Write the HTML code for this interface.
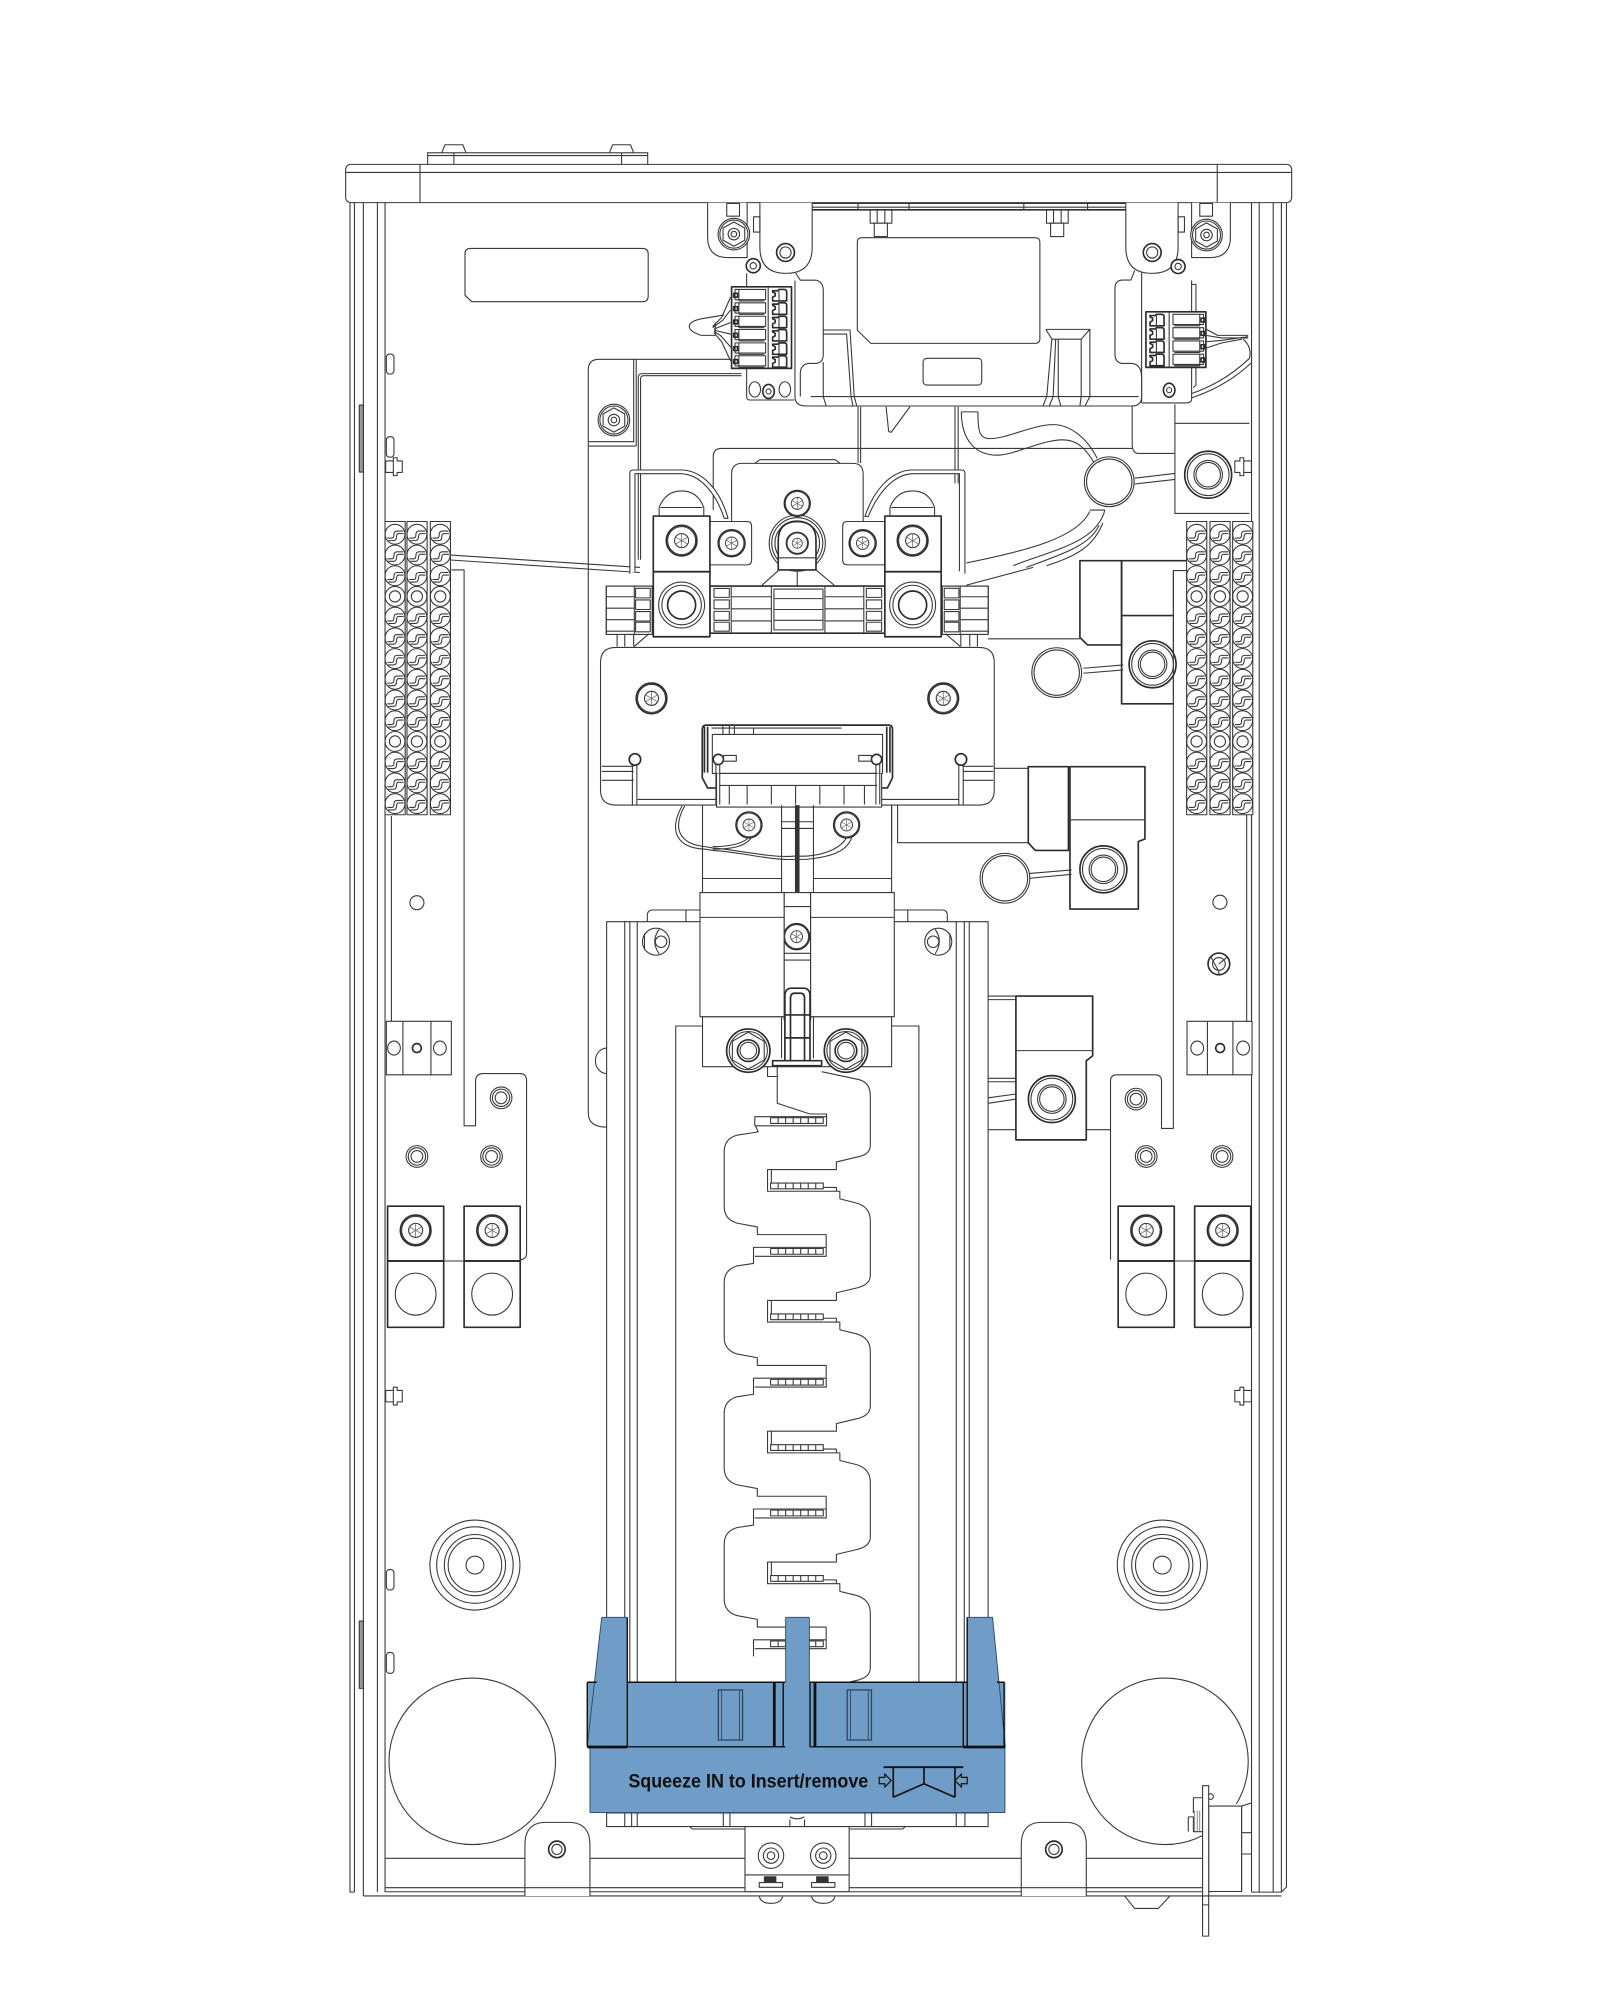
<!DOCTYPE html>
<html><head><meta charset="utf-8"><style>
html,body{margin:0;padding:0;background:#fff}
svg{display:block}
.l *,.l{fill:none;stroke:#383838;stroke-width:.85;stroke-linejoin:round}
.l .w{fill:#fff}
.l .t{stroke-width:1.3;stroke:#2c2c2c}
.l .k{stroke-width:3.6;stroke:#333}
.l .g{stroke:#666;stroke-width:.6}
.b *{stroke:none;fill:#709dc7}
.b .o{fill:none;stroke:#111;stroke-width:1.1}
.b .x{fill:none;stroke:#111;stroke-width:2.2}
.b .n{fill:none;stroke:#2d4560;stroke-width:.7}
text{font-family:"Liberation Sans",sans-serif}
</style></head><body>
<svg xmlns="http://www.w3.org/2000/svg" width="1620" height="1999" viewBox="0 0 1270.6 1567.8" class="l">
<defs>
<g id="cell"><circle r="7.8"/><path d="M-6 3H-2.500Q-.8 3-.8 .3T1.500-2.500H6.400M-5.300 5H-1Q1 5 1.200 2T3.200-.5H6.800"/></g>
<g id="pl"><circle r="7.800"/><circle r="4.400"/></g>
<g id="col"><rect x="-7.800" y="-10" width="15.800" height="230" class="w"/>
<use href="#cell" y="0"/><use href="#cell" y="16.250"/><use href="#cell" y="32.500"/><use href="#pl" y="48.750"/><use href="#cell" y="65"/><use href="#cell" y="81.250"/><use href="#cell" y="97.500"/><use href="#cell" y="113.750"/><use href="#cell" y="130"/><use href="#cell" y="146.250"/><use href="#pl" y="162.500"/><use href="#cell" y="178.750"/><use href="#cell" y="195"/><use href="#cell" y="211.250"/></g>
<g id="tx"><circle r="12" class="w t"/><circle r="11"/><circle r="5.500"/><path d="M0-5.500V5.500M-4.700-2.700 4.700 2.700M-4.700 2.700 4.700-2.700" class="g"/></g>
<g id="ws"><circle r="8.500" class="w"/><circle r="6.800"/><circle r="4.600"/></g>
<g id="ring"><circle r="18.400" class="w t"/><circle r="16.400"/><circle r="11.200"/><circle r="9.600"/></g>
<g id="nut"><circle r="12.400" class="w"/><circle r="11"/><path d="M0-9.500 8.500-4.800V4.800L0 9.500-8.500 4.800V-4.800Z"/><circle r="4.500"/><circle r="2.200"/></g>
<g id="bignut"><circle r="17" class="w t"/><circle r="15"/><path d="M0-14.500 12.500-7.300V7.300L0 14.500-12.500 7.300V-7.300Z"/><circle r="8.500" class="t"/><circle r="6.500"/></g>
<g id="hexn"><path d="M0-4.500H6V-7H9V-4.500H13V4.500H9V7H6V4.500H0Z" class="w"/><path d="M6-4.500V4.500"/></g>
<g id="teeth"><rect x="606.400" y="0" width="41.300" height="4.500" class="w"/><path d="M612.300 0V4.500M618.200 0V4.500M624.100 0V4.500M630 0V4.500M635.900 0V4.500M641.800 0V4.500"/></g>
<g id="zr"><path d="M660.700 943 673 946Q684.600 949 684.600 960V1003Q684.600 1010 675 1012.600L658 1016.600V1022.600H604V1039.600H660.700V1045.600M607 1022.600V1036.600H658V1039.600"/></g>
<g id="zl"><path d="M593 891 580 893Q570 896 570 906V949Q570 959 580 962L596 965V971H650V988H594M593 994V981H650"/></g>
<g id="pin"><path d="M0 0H6L10 0H24V8H0Z"/><path d="M3 9H23M3 0V9"/><rect x="-1" y="3" width="3" height="3" class="t"/></g>
<g id="crow"><path d="M0 1H4L5 0H9Q11 0 11 2V9H0V6L2 5V3L0 2Z" class="t"/><path d="M5 1V9" /></g>
<g id="lug"><rect x="0" y="0" width="44" height="43" class="w t"/><rect x="0" y="43" width="44" height="52" class="w t"/><use href="#tx" x="22" y="19"/><ellipse cx="22" cy="69" rx="16" ry="16.500"/><path d="M0 43H44" class="t"/></g>
</defs>

<!-- enclosure -->
<path d="M274.500 159V1484H278M1009 159V1480L1005 1484H981.600"/>
<path d="M278 159V1484M285 159V1487M296 159V1484M302 159V1484M1005 159V1484M998.600 159V1484M987.600 159V1484M981.600 159V1484"/>
<path d="M285 1487H1005"/>
<path d="M302 1457.500H412M462.700 1457.500H584.300M666 1457.500H801M852 1457.500H943.200M302 1480.500H943M302 1483.700H950M885 1487"/>
<path d="M335.400 129V119.800H508V129M335.400 122H508M356 119.800V129M487.500 119.800V129M346.500 119.800 349 113.500H363L365.500 119.800M478 119.800 480.500 113.500H494.500L497 119.800"/>
<rect x="271.100" y="128.900" width="742" height="30" rx="4" class="w"/>
<path d="M271.100 135.200H1013M329.400 128.900V158.900M954.700 128.900V158.900"/>
<path d="M369 194.800H504Q508.400 194.800 508.400 199V232Q508.400 236.600 504 236.600H370L364.700 231.500V199Q364.700 194.800 369 194.800Z"/>
<rect x="281.800" y="317.700" width="3.200" height="52.500" style="fill:#999"/>
<rect x="281.800" y="1271.400" width="3.200" height="52.800" style="fill:#999"/>
<rect x="303" y="277.700" width="6" height="15.600" rx="2.500"/><rect x="303" y="342.500" width="6" height="16" rx="2.500"/><rect x="303" y="1231" width="6" height="16" rx="2.500"/><rect x="303" y="1296" width="6" height="16.400" rx="2.500"/>
<use href="#hexn" x="302.500" y="366"/><use href="#hexn" x="302.500" y="1095"/>
<use href="#hexn" transform="translate(981.500 366) scale(-1 1)"/><use href="#hexn" transform="translate(981.500 1095) scale(-1 1)"/>

<!-- knockouts -->
<g id="ko"><circle cx="372.500" cy="1227.500" r="35.300"/><circle cx="372.500" cy="1227.500" r="30"/><circle cx="372.500" cy="1227.500" r="24"/><circle cx="372.500" cy="1227.500" r="21"/><circle cx="372.500" cy="1227.500" r="7"/></g>
<use href="#ko" x="539.100"/>
<circle cx="370.400" cy="1381.400" r="65.300"/><circle cx="913.700" cy="1381.400" r="65.300"/>

<!-- left bracket -->
<path d="M354 447H364V883H373V848Q373 842 379 842H408Q413 842 413 848V983Q413 988 407 988"/>
<path d="M307 640V801"/>
<circle cx="327" cy="708" r="5.500"/>
<g><rect x="303" y="801" width="51" height="42" class="w"/><path d="M316 801V843M338 801V843"/><ellipse cx="309" cy="822" rx="5" ry="5.500"/><circle cx="327" cy="822" r="3.500" class="t"/><ellipse cx="345" cy="822" rx="5" ry="5.500"/></g>
<use href="#ws" x="393" y="861"/><use href="#ws" x="327" y="907"/><use href="#ws" x="385.500" y="907"/>
<use href="#lug" x="304" y="946"/><use href="#lug" x="364" y="946"/>
<path d="M348 989H364"/>

<!-- right bracket -->
<path d="M930.700 447.500H920.300V885H911V848Q911 843 906 843H876Q871 843 871 848V988"/>
<path d="M977.800 639V803M981.600 639V803"/>
<circle cx="956.800" cy="707.600" r="5.500"/>
<circle cx="956" cy="756" r="8.500" class="t"/><circle cx="956" cy="756" r="5"/><path d="M950 751 956 762V765M962 751 956 756"/>
<g><rect x="931" y="801" width="51" height="42" class="w"/><path d="M947 801V843M967 801V843"/><ellipse cx="939" cy="822" rx="5" ry="5.500"/><circle cx="957" cy="822" r="3.500" class="t"/><ellipse cx="975" cy="822" rx="5" ry="5.500"/></g>
<use href="#ws" x="891" y="862"/><use href="#ws" x="899" y="907"/><use href="#ws" x="958.500" y="907"/>
<use href="#lug" x="877" y="946"/><use href="#lug" x="937" y="946"/>
<path d="M921 989H937"/>

<!-- background panel -->
<path d="M476 884Q461.400 884 461.400 873V290Q461.400 281.800 470 281.800H574"/>
<path d="M497 281.800V347M499 281.800V349.800M461.400 346.400H497M461.400 349.800H499" />
<path d="M500.600 439V296Q500.600 293 504 293H581.600M502.400 439V297Q502.400 294.600 505 294.600H581.600"/>
<use href="#nut" x="481.500" y="329.400"/>
<path d="M476 822A9 10 0 0 0 476 842"/>
<path d="M559.400 400V358Q559.400 351.700 566 351.700H888M888 318V348Q888 355.600 893 355.600H921M921.500 317V402.700H980M921.500 332H980M921.500 402.700"/>
<path d="M673 319V363M675 319V363M749 319V379M751.500 319V379M695 319 697 338.500 699 339 713.700 319"/>
<use href="#ring" x="947.600" y="372.300"/>

<!-- hinges top -->
<path d="M555 159V186Q555 202 571 202H586V159" class="w"/>
<use href="#nut" x="575.600" y="183.600"/>
<rect x="570" y="159.500" width="10" height="10" class="w"/>
<path d="M965 159V186Q965 202 949 202H934.600V159" class="w"/>
<use href="#nut" x="946.300" y="184.300"/>
<rect x="941" y="159.500" width="10" height="10" class="w"/>

<!-- transformer -->
<path d="M585.600 214.400V311Q585.600 313.700 588 313.700H623" class="w"/>
<path d="M934.600 220V313Q934.600 316 930 316H895.400M895.400 214V316" class="w"/>
<path d="M934.600 223H938V302L936 304" />
<path d="M624 214 627.700 219.700H640Q645.700 221 645.700 228V278Q645.700 285 639 285H634Q627.700 286 627.700 293V311M623.500 220V311Q623.500 318.400 632 318.400H888Q895.400 318.400 895.400 311V296Q895.400 286 888 285H880Q874.500 284 874.500 278V226Q874.500 220 880 219.600H887L890 212" class="w"/>
<path d="M636 311H893"/>
<path d="M637 159.500H883M637 162.500H883"/><path d="M637 164.500H883" class="t"/>
<path d="M676 186.400H812Q815.600 186.400 815.600 190V265.500Q815.600 269.300 812 269.300H683L672.400 259V190Q672.400 186.400 676 186.400Z"/>
<rect x="724" y="281" width="46" height="21" rx="3"/>
<path d="M645.700 258.800H666.700L670 311 672 318.400M645.700 262H664L667.500 311 669 318.400M645.700 284V311L648 318.400"/>
<path d="M820.300 258.300H854.800V311L851 318.400H847L848 311V266H825L820.300 258.300M854.800 258.300 848 266M825 266 821 311 818 318.400M828 266 826 311 823 318.400M830 266V311L832 318.400"/>
<ellipse cx="592" cy="305.400" rx="4.500" ry="6"/><ellipse cx="615.600" cy="305.400" rx="4.500" ry="6"/><ellipse cx="602.800" cy="307" rx="4.500" ry="5.500" class="t"/><circle cx="602.800" cy="307" r="2"/>
<ellipse cx="917" cy="306" rx="4.500" ry="5.500" class="t"/><circle cx="917" cy="306" r="2"/>
<g><rect x="673" y="159.500" width="40" height="5" /><rect x="803" y="159.500" width="50" height="5"/><rect x="682.500" y="164.700" width="17" height="10.300" class="w"/><rect x="685.700" y="175" width="10.300" height="10.500" class="w"/><rect x="820.800" y="164.700" width="17" height="10.300" class="w"/><rect x="824" y="175" width="10.300" height="10.500" class="w"/><path d="M688 164.700V175M694 164.700V175M826.300 164.700V175M832.300 164.700V175"/></g>
<path d="M596 159V194Q596 214.400 616.500 214.400Q637 214.400 637 194V159" class="w"/>
<circle cx="616.100" cy="198" r="7" class="w t"/><circle cx="616.100" cy="198" r="4.400"/>
<path d="M883 159V194Q883 214.400 903.500 214.400Q924 214.400 924 194V159" class="w"/>
<circle cx="903.700" cy="198" r="7" class="w t"/><circle cx="903.700" cy="198" r="4.400"/>
<circle cx="590.800" cy="208.400" r="5.500" class="w t"/><circle cx="590.800" cy="208.400" r="2.500"/>
<circle cx="924" cy="209" r="5.500" class="w t"/><circle cx="924" cy="209" r="2.500"/>
<path d="M591 170H596V182H591Z"/><path d="M924 170H929V182H924Z"/>

<!-- connectors -->
<g><rect x="573.800" y="224.900" width="47" height="64" class="w t"/><path d="M602.500 224.900V288.900"/>
<use href="#pin" x="576.500" y="227"/><use href="#pin" x="576.500" y="237.500"/><use href="#pin" x="576.500" y="248"/><use href="#pin" x="576.500" y="258.400"/><use href="#pin" x="576.500" y="268.900"/><use href="#pin" x="576.500" y="279"/>
<use href="#crow" x="606" y="227"/><use href="#crow" x="606" y="237.500"/><use href="#crow" x="606" y="248"/><use href="#crow" x="606" y="258.400"/><use href="#crow" x="606" y="268.900"/><use href="#crow" x="606" y="279"/></g>
<path d="M573 233 566 249 559 256M573 243 567 251 559 257M573 253 560 258M573 262 560 259M573 272 565 263 560 260M573 283 566 268 560 261"/>
<path d="M568 247 550 250Q540.600 252 540.600 256T550 263H561M561 253V263"/>
<g><rect x="898.800" y="244.500" width="47" height="43.600" class="w t"/><path d="M917 244.500V288.100"/>
<use href="#crow" x="902" y="246.500"/><use href="#crow" x="902" y="257"/><use href="#crow" x="902" y="267.400"/><use href="#crow" x="902" y="277.800"/>
<use href="#pin" transform="translate(944 246.500) scale(-1 1)"/><use href="#pin" transform="translate(944 257) scale(-1 1)"/><use href="#pin" transform="translate(944 267.400) scale(-1 1)"/><use href="#pin" transform="translate(944 277.800) scale(-1 1)"/></g>
<path d="M945.800 258 955 263 979 263M945.800 263 958 265 979 265M945.800 268 958 267 979 264M945.800 273 958 269 974 266M934.600 308.600Q960 300 980 281M934.600 312Q962 303 982 284M975 266Q982 272 980 281"/>

<!-- sheath + rings -->
<path d="M754 323C754 345 765 357 782 357C795 357 815 346 831 345C845 344 852 352 860 366M767 323C767 338 768 344 776.500 344C790 344 810 333 826 333C838 333 852 342 860.500 359.500M754 323H767"/>
<circle cx="870" cy="377.800" r="19.500" class="w"/><circle cx="870" cy="377.800" r="17.800"/>
<path d="M890 375 921.500 371.300M890 379.600 921.500 376"/>
<path d="M854.800 400H866.600M854.800 401C845 422 805 432 758 441.500M866.600 400C860 425 830 430 794.700 443.600M865 410C858 428 845 436 820.900 443.600M862 412C855 428 832 435 805 445M810.400 445 758 458.900"/>

<!-- wire from left strip -->
<path d="M353.400 435.300 501.900 445M353.400 439.200 501.900 449"/>

<!-- strips -->
<use href="#col" x="309.800" y="419"/><use href="#col" x="327" y="419"/><use href="#col" x="345.300" y="419"/>
<use href="#col" x="938.500" y="419"/><use href="#col" x="956.800" y="419"/><use href="#col" x="974.600" y="419"/>

<!-- lug assemblies -->
<path d="M494 450V371Q494 368.600 497 368.600H536C552 370 565 385 571 406.500H568C562 388 550 372 534 371.500H498V448" class="w"/>
<path d="M756.800 450V371Q756.800 368.600 754 368.600H713.700C698 370 685 385 678.400 405H681C688 388 700 372 716 371.500H752.500V448" class="w"/>
<path d="M573.800 412V372Q573.800 363.400 582 363.400H669Q677 363.400 677 372V412" class="w"/>
<path d="M592 363.400 596 360.500H655L659 363.400"/>
<circle cx="625.300" cy="426" r="22" class="w"/><circle cx="625.300" cy="426" r="20"/><circle cx="625.300" cy="426" r="17.500"/>
<path d="M610.400 424Q610.400 409 625.300 409T640 424V447H610.400Z" class="w t"/>
<use href="#tx" transform="translate(625.300 426) scale(.72)"/>
<path d="M610.400 437.500H640"/>
<use href="#tx" transform="translate(625.300 394.800) scale(.85)"/>
<path d="M597 459.600 611 447M655 459.600 640 447M625.300 447V459.600"/>
<path d="M517 404.700V398Q522 385 534.600 385T552 398V404.700M698 404.700V398Q703 385 715.800 385T733 398V404.700M518 398H551M699 398H732" class="w"/>
<path d="M556.800 409H586Q589.500 409 589.500 413V439Q589.500 443 586 443H556.800Z" class="w"/>
<use href="#tx" transform="translate(573.800 426) scale(.88)"/>
<path d="M694 409H664.500Q660.900 409 660.900 413V439Q660.900 443 664.500 443H694Z" class="w"/>
<use href="#tx" transform="translate(676.600 426) scale(.88)"/>
<rect x="512.400" y="404.700" width="44.400" height="43.700" class="w t"/>
<use href="#tx" x="534.600" y="424"/>
<rect x="694" y="404.700" width="44.200" height="43.700" class="w t"/>
<use href="#tx" x="715.800" y="424"/>

<!-- combs -->
<g id="cb"><rect x="475.500" y="459.600" width="36" height="38" class="w"/><path d="M475.500 459.600H511M475.500 468H497M475.500 477H497M475.500 486H497M475.500 495H497M475.500 459.600V497.500M497.500 459.600V497.500"/><rect x="498.500" y="461.400" width="11.500" height="7.500"/><rect x="498.500" y="470.500" width="11.500" height="7.500"/><rect x="498.500" y="479.600" width="11.500" height="7.500"/><rect x="498.500" y="488" width="11.500" height="7.500"/><path d="M497 498V507M490 498V507M484 498V507M497.500 507 509 497"/></g>
<use href="#cb" transform="translate(1250.600 0) scale(-1 1)"/>
<!-- grid -->
<rect x="556.800" y="459.600" width="137.200" height="37" class="w t"/>
<path d="M573.500 459.600V496.600M605 459.600V496.600M647 459.600V496.600M677.500 459.600V496.600M573.500 468H605M573.500 477.500H605M573.500 487H605M647 468H677.500M647 477.500H677.500M647 487H677.500M607 462H645.500V494H607ZM607 469.500H645.500M607 478H645.500M607 486.500H645.500"/>
<rect x="560" y="461.500" width="12" height="7"/><rect x="560" y="470.500" width="12" height="7"/><rect x="560" y="479.500" width="12" height="7"/><rect x="560" y="488" width="12" height="7"/>
<rect x="679.500" y="461.500" width="12" height="7"/><rect x="679.500" y="470.500" width="12" height="7"/><rect x="679.500" y="479.500" width="12" height="7"/><rect x="679.500" y="488" width="12" height="7"/>
<rect x="512.400" y="448.400" width="44.400" height="51" class="w t"/><circle cx="534.600" cy="474.500" r="18"/><circle cx="534.600" cy="474.500" r="15.500"/><circle cx="534.600" cy="474.500" r="11" class="t"/>
<rect x="694" y="448.400" width="44.200" height="51" class="w t"/><circle cx="715.800" cy="474.500" r="18"/><circle cx="715.800" cy="474.500" r="15.500"/><circle cx="715.800" cy="474.500" r="11" class="t"/>

<!-- mid lug right -->
<path d="M775 501H847"/>
<path d="M847 439.700H879.700V505.800H853L847 500Z" class="w t"/>
<path d="M879.700 439.700H930.700M879.700 439.700V552H920.300M879.700 482.800H920.300" class="t"/>
<use href="#ring" x="904" y="521"/>
<path d="M920.300 447.500V552" />
<circle cx="828.800" cy="527.500" r="19.500" class="w"/><circle cx="828.800" cy="527.500" r="17.800"/>
<path d="M849.700 524.100 881 521.500M849.700 528 881 525.400"/>

<!-- lower-mid lug -->
<path d="M779.600 602.600H806.500M704 631.400V660.900H806.500M699.300 631.400V660.900"/>
<path d="M806.500 601.300H838V667H812L806.500 661Z" class="w t"/>
<path d="M839.200 601.300H898V658L892.800 660V713H839.200Z" class="w t"/>
<path d="M839.200 643H898"/>
<use href="#ring" x="865.400" y="681.800"/>
<circle cx="788.200" cy="688.800" r="19.500" class="w"/><circle cx="788.200" cy="688.800" r="17.800"/>
<path d="M807.800 685 840.500 682.300M807.800 688.800 840.500 685.700"/>

<!-- bottom-right lug -->
<path d="M775 781.200H797M775 784H797M775 845.700H797M775 848.400H797M775 886H797M852 886H871M797 862 775 865.300M797 858 775 861"/>
<path d="M796.800 781.200H857V828L852 832V894H796.800Z" class="w t"/>
<path d="M796.800 824H857"/>
<use href="#ring" x="825" y="862"/>

<!-- main plate -->
<path d="M483 507.800H768Q779.800 507.800 779.800 519.500V619.500Q779.800 631.400 768 631.400H483Q471 631.400 471 619.500V519.500Q471 507.800 483 507.800Z" class="w"/>
<use href="#tx" x="511" y="547.700"/><use href="#tx" x="739.800" y="547.700"/>
<path d="M472 601H497M472 605H497M472 612H497M779 601H755M779 605H755M779 612H755"/>
<path d="M496 600V631M499.500 600V631M752 600V631M755.500 600V631M500 627H562M690 627H752" />
<circle cx="498" cy="595.600" r="4.500" class="w t"/><circle cx="753.700" cy="595.600" r="4.500" class="w t"/>
<path d="M550.800 610V572Q550.800 568.700 554 568.700H697Q700 568.700 700 572V610L696 618H555Z" class="w t"/>
<path d="M552.500 570V606M555 570V606M698 570V606M695.500 570V606" class="t"/>
<rect x="558.700" y="576" width="133.500" height="30.600"/>
<path d="M558 571H660M567 569V576M572 569V576M576 569V576M591 576V571"/>
<path d="M562 606.600V633H691.500V606.600" class="w"/>
<path d="M561.500 597V631M564.500 597V631M690 597V631M687 597V631M564 606.600H688M572 616V631M586 616V631M605 616V631M624 616V631M643 616V631M662 616V631M678 616V631M564 616H688" />
<circle cx="563.400" cy="595.600" r="4" class="w t"/><circle cx="687.500" cy="595.600" r="4" class="w t"/>
<path d="M567.500 592.500H577.500V597H567.500ZM683.500 592.500H673.500V597H683.500Z"/>

<!-- below plate -->
<path d="M551 631.400V700M699.300 631.400V700M613 631.400V700M638 631.400V700M551 689H613M638 689H699.300M613 644.500H638M613 649.700H638"/>
<path d="M625.300 631.400V711" class="k" style="stroke-width:3.600"/>
<use href="#tx" transform="translate(587.400 647) scale(.85)"/><use href="#tx" transform="translate(664 647) scale(.85)"/>
<path d="M537 632C527 650 533 662 553 664L559 665C575 666 605 673 622 671.500H632C650 670 660 664 664 657M535 632C524 652 531 665 553 666L559 667C580 668 605 675 622 674H632C652 672 664 668 668 657M559 664C572 664 583 662 588 656M559 666C574 666 585 664 590 656"/>

<!-- rail -->
<path d="M507.700 723V718Q507.700 713.700 512 713.700H739Q743 713.700 743 718V723M538 713.700V723M712 713.700V723"/>
<rect x="475.800" y="722.900" width="299.200" height="699" class="w"/>
<path d="M490 722.900V1320M494 722.900V1320M499.800 722.900V1320M750 722.900V1320M756.300 722.900V1320M760.200 722.900V1320"/>
<path d="M530 1320V804.700H720.700V1320"/>
<circle cx="514.500" cy="738.600" r="10.600" class="w"/><circle cx="518.500" cy="738.600" r="4.500"/><path d="M517 729Q510 738 517 748M505.500 732V745"/>
<circle cx="735.900" cy="738.600" r="10.600" class="w"/><circle cx="731.900" cy="738.600" r="4.500"/><path d="M733.500 729Q740 738 733.500 748M745 732V745"/>

<!-- lower block -->
<rect x="551" y="797.400" width="148.300" height="39.200" class="w"/>
<rect x="615" y="700" width="20.800" height="100" class="w"/>
<use href="#tx" transform="translate(624.800 734.600) scale(.85)"/>
<path d="M615 711H635.800M615 747.700H635.800M615 753H635.800"/>
<rect x="549" y="700" width="66" height="97.400" class="w"/><path d="M549 719.500H615"/>
<rect x="635.800" y="700" width="65.600" height="97.400" class="w"/><path d="M635.800 719.500H701.400"/>
<use href="#bignut" x="586.900" y="824"/>
<use href="#bignut" x="663.500" y="824"/>
<path d="M613 797.400V830M638 797.400V830"/>
<path d="M615.600 832V781Q615.600 775 621 775H630Q635.300 775 635.300 781V832Z" class="w t"/>
<path d="M620 832V783Q620 779 623 779H628Q631 779 631 783V832M615.600 796H635.300M615.600 814H635.300" class="t"/>
<rect x="606" y="831.900" width="38.400" height="3.900" class="w t"/>

<!-- zigzag -->
<g transform="translate(-2 -2.700)">
<path d="M646.400 843.200 676 849.500Q684.600 852 684.600 862V901Q684.600 908 675 910L658 914V920H604V937H660.700V943M607 920V934H658V937"/>
<path d="M611.600 839.300V868 L637.200 876.400H650.300V885.700H594.500L596.700 890.300L593 891M594 885.700V878.500H650.300M604 839.300V847H611.600"/>
<use href="#zr"/><use href="#zr" y="102.600"/><use href="#zr" y="205.200"/><use href="#zr" y="307.800"/>
<use href="#zl"/><use href="#zl" y="102.600"/><use href="#zl" y="205.200"/><use href="#zl" y="307.800"/>
<use href="#teeth" y="879.300"/><use href="#teeth" y="930.600"/><use href="#teeth" y="981.900"/><use href="#teeth" y="1033.200"/><use href="#teeth" y="1084.500"/><use href="#teeth" y="1135.800"/><use href="#teeth" y="1187.100"/><use href="#teeth" y="1238.400"/><use href="#teeth" y="1289.700"/>
</g>

<!-- below blue -->
<path d="M541 1432.600 543 1434.500H584.300M666 1434.500H708L710 1432.600M619.500 1432.600H475.800V1422M775 1422V1432.600H631"/>
<path d="M490 1422V1432.600M495.400 1422V1432.600M499.800 1422V1432.600M567.300 1422V1432.600M572.500 1422V1432.600M678.400 1422V1432.600M683.600 1422V1432.600M750 1422V1432.600M756.800 1422V1432.600"/>
<rect x="584.300" y="1432.600" width="81.700" height="51" class="w"/>
<path d="M619.500 1432.600V1427M631 1432.600V1427M619.500 1425Q625 1428 631 1425"/>
<path d="M584.300 1470.500H666"/>
<g id="cb1"><circle cx="604.700" cy="1455.400" r="10" class="w"/><circle cx="604.700" cy="1455.400" r="6"/><circle cx="604.700" cy="1455.400" r="3"/>
<rect x="599.500" y="1472" width="9" height="4.500" style="fill:#333"/><rect x="595.500" y="1476.500" width="18.300" height="3.700" class="w"/><path d="M595.500 1487.500Q597 1492.800 604.700 1492.800T613.800 1487.500"/></g>
<use href="#cb1" x="41"/>
<path d="M411.700 1487V1447Q411.700 1429.300 428 1429.300H446Q462.700 1429.300 462.700 1447V1487" class="w"/>
<path d="M411.700 1480.500H462.700"/>
<circle cx="436.800" cy="1450.500" r="6.500" class="w t"/><circle cx="436.800" cy="1450.500" r="4"/>
<path d="M801 1487V1447Q801 1429.300 817 1429.300H836Q852 1429.300 852 1447V1487" class="w"/>
<path d="M801 1480.500H852"/>
<circle cx="826.600" cy="1450.500" r="6.500" class="w t"/><circle cx="826.600" cy="1450.500" r="4"/>
<path d="M882 1487 890 1496.800H908.500L917.600 1487"/>
<path d="M943.200 1410H936V1422M932 1425H936V1436.600H943.200M932 1425V1436.600"/>
<circle cx="949.500" cy="1409" r="2.200"/>
<path d="M937 1420V1436M939 1420V1436M941 1420V1436" class="g"/>
<path d="M948 1416.500H973.800L981.600 1414" class="w"/>
<path d="M973.800 1416.500V1484M973.800 1437.400H981.600M973.800 1454.100H981.600"/>
<rect x="948" y="1416.500" width="25.800" height="67" class="w"/>
<rect x="943.200" y="1400.500" width="4.800" height="118" class="w"/>
<path d="M943.200 1487H948M943.200 1494H948"/>
</svg>

<svg xmlns="http://www.w3.org/2000/svg" width="1620" height="1999" viewBox="0 0 1270.6 1567.8" style="position:absolute;left:0;top:0" class="b">
<rect x="460.600" y="1319.400" width="328" height="50.500"/>
<path d="M462.700 1369.900H788.200V1421.600H462.700Z"/>
<path d="M471.900 1268.500H492V1370H460.600Z"/>
<rect x="616.200" y="1268.500" width="18.600" height="103"/>
<path d="M758.600 1268.500H778.500L788.500 1370H758.600Z"/>
<path class="n" d="M462.700 1421.600V1370M788.200 1370V1421.600M462.700 1421.600H788.200"/>
<path class="n" d="M471.900 1268.500H492M616.200 1268.500H634.800M758.600 1268.500H778.500M471.900 1268.500 460.600 1370M778.500 1268.500 788.500 1370M616.200 1268.500V1319.400M634.800 1268.500V1319.400"/>
<path class="o" d="M460.600 1319.400V1370M787.500 1319.400V1370M460.600 1319.400H468M492 1319.400H616M635 1319.400H758.600M782 1319.400H788M492 1268.500V1370M758.600 1268.500V1370M607.300 1319.400V1370M614.300 1319.400V1370M635.300 1319.400V1370M639.200 1319.400V1370M755.500 1319.400V1370M492 1370H616M635 1370H758.600"/>
<path class="x" d="M460.600 1370.200H492M755.500 1370.200H788.500M607.300 1319.400V1370M639.200 1319.400V1370"/>
<rect class="n" x="563.400" y="1325.400" width="19" height="39.300" style="stroke-width:1"/><rect class="n" x="566" y="1325.400" width="14" height="39.300"/>
<rect class="n" x="664.500" y="1325.400" width="19" height="39.300" style="stroke-width:1"/><rect class="n" x="667" y="1325.400" width="14" height="39.300"/>
<text x="492.800" y="1402" font-size="15" font-weight="bold" textLength="188.200" lengthAdjust="spacingAndGlyphs" style="fill:#111;stroke:none">Squeeze IN to Insert/remove</text>
<path d="M693 1386H755.500" style="fill:none;stroke:#111;stroke-width:1.500"/>
<path d="M700.600 1386V1409.600M749 1386V1409.600M724.700 1386V1399M700.600 1409.600 724.700 1399 749 1409.600" style="fill:none;stroke:#111;stroke-width:1.300"/>
<path d="M689.600 1394H694V1391.500L699 1396.500 694 1401.500V1399H689.600Z" style="fill:none;stroke:#111;stroke-width:.9"/>
<path d="M758.600 1394H754V1391.500L749 1396.500 754 1401.500V1399H758.600Z" style="fill:none;stroke:#111;stroke-width:.9"/>
</svg>
</body></html>
